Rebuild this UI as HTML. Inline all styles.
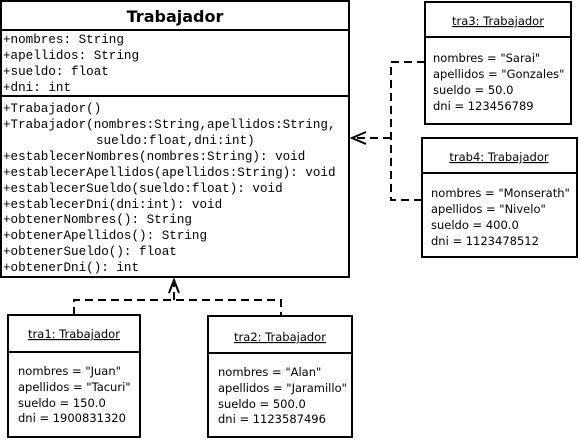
<!DOCTYPE html>
<html><head><style>body{margin:0;background:#fff}svg{display:block}</style></head><body>
<svg width="580" height="441" xmlns="http://www.w3.org/2000/svg">
<rect width="580" height="441" fill="#fff"/>
<g fill="none" stroke="#000" stroke-width="2">
<rect x="1" y="1" width="348" height="276"/>
<line x1="1" y1="30" x2="349" y2="30"/>
<line x1="1" y1="96" x2="349" y2="96"/>
<rect x="425" y="2" width="146" height="122"/>
<line x1="425" y1="37" x2="571" y2="37"/>
<rect x="422" y="138" width="155" height="119"/>
<line x1="422" y1="173" x2="577" y2="173"/>
<rect x="8" y="315" width="132" height="122"/>
<line x1="8" y1="352" x2="140" y2="352"/>
<rect x="208" y="316" width="144" height="121"/>
<line x1="208" y1="353" x2="352" y2="353"/>
</g>
<g fill="none" stroke="#000" stroke-width="2" stroke-dasharray="8,5">
<polyline points="74,315 74,300 281,300 281,316"/>
<line x1="174" y1="300" x2="174" y2="281"/>
<polyline points="425,62 391,62 391,200 422,200"/>
<line x1="391" y1="138" x2="354" y2="138"/>
</g>
<g fill="none" stroke="#000" stroke-width="2">
<polyline points="169,293 174,280 179,293"/>
<polyline points="366,132 352,138 366,144"/>
</g>
<text x="175" y="22" font-family="DejaVu Sans, sans-serif" font-weight="bold" font-size="16" text-anchor="middle">Trabajador</text>
<g font-family="Liberation Mono, monospace" font-size="12.6">
<text x="3" y="43">+nombres: String</text>
<text x="3" y="59">+apellidos: String</text>
<text x="3" y="75">+sueldo: float</text>
<text x="3" y="91">+dni: int</text>
<text x="3" y="112">+Trabajador()</text>
<text x="3" y="128">+Trabajador(nombres:String,apellidos:String,</text>
<text x="96" y="144">sueldo:float,dni:int)</text>
<text x="3" y="160">+establecerNombres(nombres:String): void</text>
<text x="3" y="176">+establecerApellidos(apellidos:String): void</text>
<text x="3" y="192">+establecerSueldo(sueldo:float): void</text>
<text x="3" y="208">+establecerDni(dni:int): void</text>
<text x="3" y="223">+obtenerNombres(): String</text>
<text x="3" y="239">+obtenerApellidos(): String</text>
<text x="3" y="255">+obtenerSueldo(): float</text>
<text x="3" y="271">+obtenerDni(): int</text>
</g>
<g font-family="DejaVu Sans, sans-serif" font-size="11.5">
<text x="498" y="25" text-anchor="middle" text-decoration="underline">tra3: Trabajador</text>
<text x="433" y="62">nombres = "Sarai"</text>
<text x="433" y="78">apellidos = "Gonzales"</text>
<text x="433" y="94">sueldo = 50.0</text>
<text x="433" y="110">dni = 123456789</text>
<text x="499" y="161" text-anchor="middle" text-decoration="underline">trab4: Trabajador</text>
<text x="431" y="197">nombres = "Monserath"</text>
<text x="431" y="213">apellidos = "Nivelo"</text>
<text x="431" y="229">sueldo = 400.0</text>
<text x="431" y="245">dni = 1123478512</text>
<text x="74" y="338" text-anchor="middle" text-decoration="underline">tra1: Trabajador</text>
<text x="18" y="375">nombres = "Juan"</text>
<text x="18" y="391">apellidos = "Tacuri"</text>
<text x="18" y="407">sueldo = 150.0</text>
<text x="18" y="422">dni = 1900831320</text>
<text x="280" y="341" text-anchor="middle" text-decoration="underline">tra2: Trabajador</text>
<text x="218" y="376">nombres = "Alan"</text>
<text x="218" y="392">apellidos = "Jaramillo"</text>
<text x="218" y="408">sueldo = 500.0</text>
<text x="218" y="423">dni = 1123587496</text>
</g>
</svg>
</body></html>
